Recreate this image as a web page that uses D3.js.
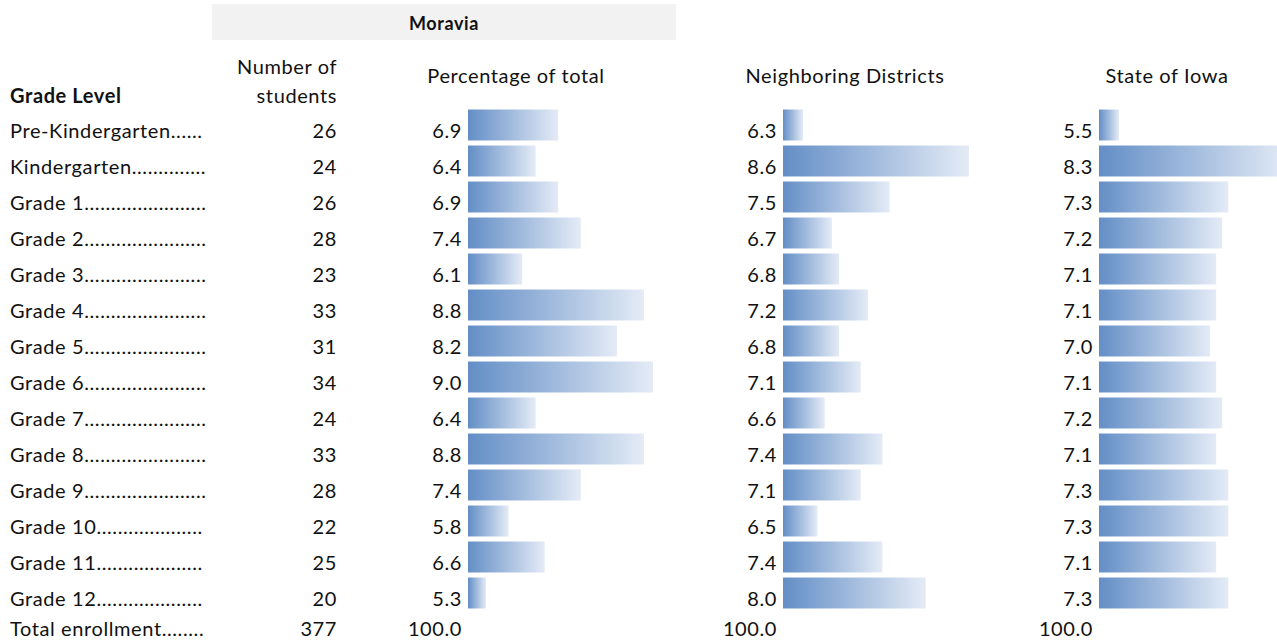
<!DOCTYPE html>
<html><head><meta charset="utf-8">
<script src="https://cdn.jsdelivr.net/npm/d3@7"></script>
<style>
html,body{margin:0;padding:0;background:#fff;}
svg{display:block;font-family:Lato,"Open Sans",sans-serif;}
svg text{letter-spacing:0.6px;}
</style></head>
<body>
<svg id="chart" width="1277" height="644"></svg>
<script>
const district = "Moravia";
const grades = ["Pre-Kindergarten","Kindergarten","Grade 1","Grade 2","Grade 3","Grade 4","Grade 5","Grade 6","Grade 7","Grade 8","Grade 9","Grade 10","Grade 11","Grade 12"];
const students = [26,24,26,28,23,33,31,34,24,33,28,22,25,20];
const pctTotal = [6.9,6.4,6.9,7.4,6.1,8.8,8.2,9.0,6.4,8.8,7.4,5.8,6.6,5.3];
const neighboring = [6.3,8.6,7.5,6.7,6.8,7.2,6.8,7.1,6.6,7.4,7.1,6.5,7.4,8.0];
const stateIowa = [5.5,8.3,7.3,7.2,7.1,7.1,7.0,7.1,7.2,7.1,7.3,7.3,7.1,7.3];
const totalLabel = "Total enrollment";
const totalStudents = 377;
const totalPct = "100.0";

const svg = d3.select("#chart");
const FS = 20;
const txtColor = "#111";

const y = d3.scaleBand().domain(grades).range([107, 107 + 36*grades.length]).paddingInner(0.14).paddingOuter(0.07);

const defs = svg.append("defs");
const grad = defs.append("linearGradient").attr("id","bargrad").attr("x1","0").attr("x2","1").attr("y1","0").attr("y2","0");
grad.append("stop").attr("offset","0%").attr("stop-color","#638ec6");
grad.append("stop").attr("offset","100%").attr("stop-color","#e4ebf6");

svg.append("rect").attr("x",212).attr("y",4).attr("width",464).attr("height",36).attr("fill","#f2f2f2");

const hdr = (x, yy, t, anchor, bold) => svg.append("text").attr("x",x).attr("y",yy).attr("text-anchor",anchor).attr("font-size",FS).attr("font-weight",bold?"bold":"normal").attr("fill",txtColor).text(t);
hdr(444,30,district,"middle",true).attr("font-size",18);
hdr(10,103,"Grade Level","start",true);
hdr(337,74,"Number of","end");
hdr(337,103,"students","end");
hdr(516,83,"Percentage of total","middle");
hdr(845,83,"Neighboring Districts","middle");
hdr(1167,83,"State of Iowa","middle");

const rowY = g => y(g) + y.bandwidth() - 2;

const labelEnd = 207;
function leader(name, yy){
  const t = svg.append("text").attr("x",10).attr("y",yy).attr("font-size",FS).attr("fill",txtColor).text(name);
  let s = name;
  while (t.node().getComputedTextLength() < labelEnd - 10 - 3) { s += "."; t.text(s); }
  if (t.node().getComputedTextLength() > labelEnd - 10) { s = s.slice(0,-1); t.text(s); }
}
grades.forEach(g => leader(g, rowY(g)));

svg.selectAll("text.num").data(grades).enter().append("text").attr("class","num")
  .attr("x",337).attr("y",g=>rowY(g)).attr("text-anchor","end").attr("font-size",FS).attr("fill",txtColor)
  .text((g,i)=>students[i]);

function barColumn(values, valueRight, barX, minLen, maxLen){
  const x = d3.scaleLinear().domain(d3.extent(values)).range([minLen, maxLen]);
  svg.append("g").selectAll("rect").data(grades).enter().append("rect")
    .attr("x", barX).attr("y", g=>y(g)).attr("height", y.bandwidth())
    .attr("width",(g,i)=>x(values[i])).attr("fill","url(#bargrad)");
  svg.append("g").selectAll("text").data(grades).enter().append("text")
    .attr("x", valueRight).attr("y", g=>rowY(g)).attr("text-anchor","end").attr("font-size",FS).attr("fill",txtColor)
    .text((g,i)=>d3.format(".1f")(values[i]));
}
barColumn(pctTotal, 462, 468, 18, 185);
barColumn(neighboring, 777, 783, 20, 186);
barColumn(stateIowa, 1093, 1099, 20, 190);

const totY = 636;
leader(totalLabel, totY);
hdr(337,totY,String(totalStudents),"end");
hdr(462,totY,totalPct,"end");
hdr(777,totY,totalPct,"end");
hdr(1093,totY,totalPct,"end");
</script>
</body></html>
